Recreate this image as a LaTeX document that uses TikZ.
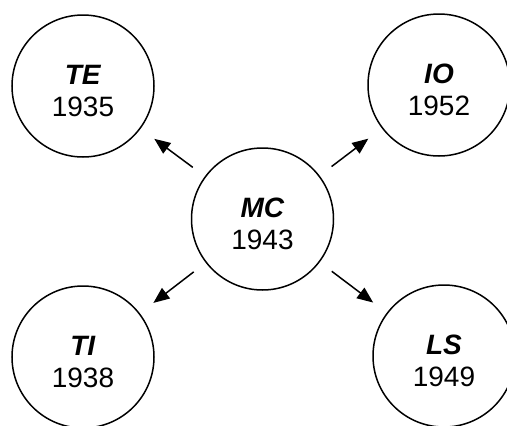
\documentclass[tikz,border=0pt]{standalone}
\usepackage{fontspec}
\setmainfont{Liberation Sans}
\usetikzlibrary{arrows.meta}
\newcommand{\yearlabel}[2]{\rule{0pt}{30pt}\textbf{\textit{#1}}\\#2}
\begin{document}
\begin{tikzpicture}[x=1pt,y=-1pt,
  yearnode/.style={circle,draw,line width=1.5pt,minimum size=142pt,inner sep=0pt,
    align=center,font=\fontsize{28}{32}\selectfont},
  link/.style={line width=1.5pt,-{Triangle[length=16pt,width=13pt]},
    shorten <=15pt,shorten >=17pt}]
  \useasboundingbox (0,0) rectangle (507,426);
  \clip (0,0) rectangle (507,426);
  \node[yearnode] (mc) at (262.5,219) {\yearlabel{MC}{1943}};
  \node[yearnode] (te) at (83,86) {\yearlabel{TE}{1935}};
  \node[yearnode] (io) at (439,85) {\yearlabel{IO}{1952}};
  \node[yearnode] (ti) at (83,357) {\yearlabel{TI}{1938}};
  \node[yearnode] (ls) at (444,356) {\yearlabel{LS}{1949}};
  \draw[link] (mc) -- (te);
  \draw[link] (mc) -- (io);
  \draw[link] (mc) -- (ti);
  \draw[link] (mc) -- (ls);
\end{tikzpicture}
\end{document}
